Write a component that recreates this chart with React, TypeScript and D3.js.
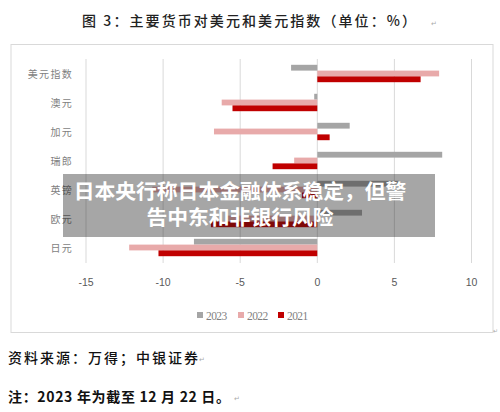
import { useEffect, useRef } from 'react';
import * as d3 from 'd3';

const categories = ['美元指数', '澳元', '加元', '瑞郎', '英镑', '欧元', '日元'];
const years = ['2023', '2022', '2021'];
const values2023 = [-1.7, -0.2, 2.1, 8.1, 5.3, 2.9, -8.0];
const values2022 = [7.9, -6.2, -6.7, -1.5, -10.7, -5.9, -12.2];
const values2021 = [6.7, -5.5, 0.8, -2.9, -1.0, -6.9, -10.3];
const xTicks = [-15, -10, -5, 0, 5, 10];
const colors = ['#a5a5a5', '#e8aaaa', '#c00000'];

const title = '图 3：主要货币对美元和美元指数（单位：%）';
const source = '资料来源：万得；中银证券';
const note = '注：2023 年为截至 12 月 22 日。';
const overlayLines = ['日本央行称日本金融体系稳定，但警', '告中东和非银行风险'];

const W = 500;
const H = 412;
const SERIF = '"Noto Sans CJK SC", "Liberation Serif", serif';
const CJK = '"Noto Sans CJK SC", sans-serif';

export default function App() {
  const svgRef = useRef<SVGSVGElement>(null);

  useEffect(() => {
    const svg = d3.select(svgRef.current);
    svg.selectAll('*').remove();

    const series = [values2023, values2022, values2021];

    const x = d3.scaleLinear().domain([-15, 10]).range([86, 471.5]);
    const y = d3.scaleBand<string>().domain(categories).range([59, 262]).paddingInner(0.4).paddingOuter(0.2);
    const ySub = d3.scaleBand<string>().domain(years).range([0, y.bandwidth()]);

    svg.append('rect').attr('width', W).attr('height', H).attr('fill', '#fff');

    // title
    svg
      .append('text')
      .attr('x', 82)
      .attr('y', 26)
      .attr('textLength', 334)
      .attr('lengthAdjust', 'spacing')
      .attr('font-family', SERIF)
      .attr('font-size', 14)
      .attr('font-weight', 500)
      .attr('fill', '#222')
      .text(title);
    svg
      .append('text')
      .attr('x', 431)
      .attr('y', 26)
      .attr('font-size', 7)
      .attr('fill', '#aaa')
      .text('↵');

    // chart frame
    svg
      .append('rect')
      .attr('x', 11)
      .attr('y', 44.5)
      .attr('width', 482)
      .attr('height', 288)
      .attr('fill', '#fff')
      .attr('stroke', '#d9d9d9')
      .attr('stroke-width', 1);

    // grid
    svg
      .append('g')
      .selectAll('line')
      .data(xTicks)
      .join('line')
      .attr('x1', (d) => x(d))
      .attr('x2', (d) => x(d))
      .attr('y1', 59)
      .attr('y2', 263)
      .attr('stroke', '#d9d9d9')
      .attr('stroke-width', 1);

    // bars
    const g = svg.append('g');
    series.forEach((vals, si) => {
      g.selectAll(`rect.s${si}`)
        .data(vals)
        .join('rect')
        .attr('class', `s${si}`)
        .attr('x', (d) => x(Math.min(0, d)))
        .attr('width', (d) => Math.abs(x(d) - x(0)))
        .attr('y', (_, i) => (y(categories[i]) ?? 0) + (ySub(years[si]) ?? 0))
        .attr('height', ySub.bandwidth())
        .attr('fill', colors[si]);
    });

    // category labels
    svg
      .append('g')
      .selectAll('text')
      .data(categories)
      .join('text')
      .attr('x', 73)
      .attr('y', (d) => (y(d) ?? 0) + y.bandwidth() / 2 + 4)
      .attr('text-anchor', 'end')
      .attr('font-family', SERIF)
      .attr('font-size', 10)
      .attr('letter-spacing', 1.3)
      .attr('fill', '#7f7f7f')
      .text((d) => d);

    // x tick labels
    svg
      .append('g')
      .selectAll('text')
      .data(xTicks)
      .join('text')
      .attr('x', (d) => x(d))
      .attr('y', 286)
      .attr('text-anchor', 'middle')
      .attr('font-family', '"Liberation Sans", Arial, sans-serif')
      .attr('font-size', 10.5)
      .attr('fill', '#595959')
      .text((d) => String(d));

    // legend
    const legendX = [197, 238, 278];
    const lg = svg.append('g');
    years.forEach((yr, i) => {
      lg.append('rect')
        .attr('x', legendX[i])
        .attr('y', 312)
        .attr('width', 6)
        .attr('height', 6)
        .attr('fill', colors[i]);
      lg.append('text')
        .attr('x', legendX[i] + 9)
        .attr('y', 320)
        .attr('font-family', '"Liberation Serif", "Times New Roman", serif')
        .attr('font-size', 11.5)
        .attr('letter-spacing', -0.6)
        .attr('fill', '#7f7f7f')
        .text(yr);
    });
    svg
      .append('text')
      .attr('x', 493)
      .attr('y', 333)
      .attr('font-size', 6)
      .attr('fill', '#aaa')
      .text('↵');

    // footer
    svg
      .append('text')
      .attr('x', 8)
      .attr('y', 363)
      .attr('textLength', 190)
      .attr('lengthAdjust', 'spacing')
      .attr('font-family', SERIF)
      .attr('font-size', 14)
      .attr('font-weight', 500)
      .attr('fill', '#111')
      .text(source);
    svg
      .append('text')
      .attr('x', 199)
      .attr('y', 362)
      .attr('font-size', 7)
      .attr('fill', '#aaa')
      .text('↵');
    svg
      .append('text')
      .attr('x', 8)
      .attr('y', 402)
      .attr('textLength', 222)
      .attr('lengthAdjust', 'spacing')
      .attr('font-family', SERIF)
      .attr('font-size', 14)
      .attr('font-weight', 700)
      .attr('fill', '#111')
      .text(note);
    svg
      .append('text')
      .attr('x', 234)
      .attr('y', 401)
      .attr('font-size', 7)
      .attr('fill', '#aaa')
      .text('↵');

    // news overlay
    svg
      .append('rect')
      .attr('x', 63)
      .attr('y', 174)
      .attr('width', 372)
      .attr('height', 63)
      .attr('fill', 'rgba(20,20,20,0.38)');
    svg
      .append('g')
      .selectAll('text')
      .data(overlayLines)
      .join('text')
      .attr('x', 240)
      .attr('y', (_, i) => 199 + i * 26)
      .attr('text-anchor', 'middle')
      .attr('font-family', CJK)
      .attr('font-size', 20.8)
      .attr('font-weight', 700)
      .attr('fill', '#fff')
      .text((d) => d);
  }, []);

  return (
    <svg
      ref={svgRef}
      width={W}
      height={H}
      viewBox={`0 0 ${W} ${H}`}
      style={{ position: 'absolute', left: 0, top: 0 }}
    />
  );
}
